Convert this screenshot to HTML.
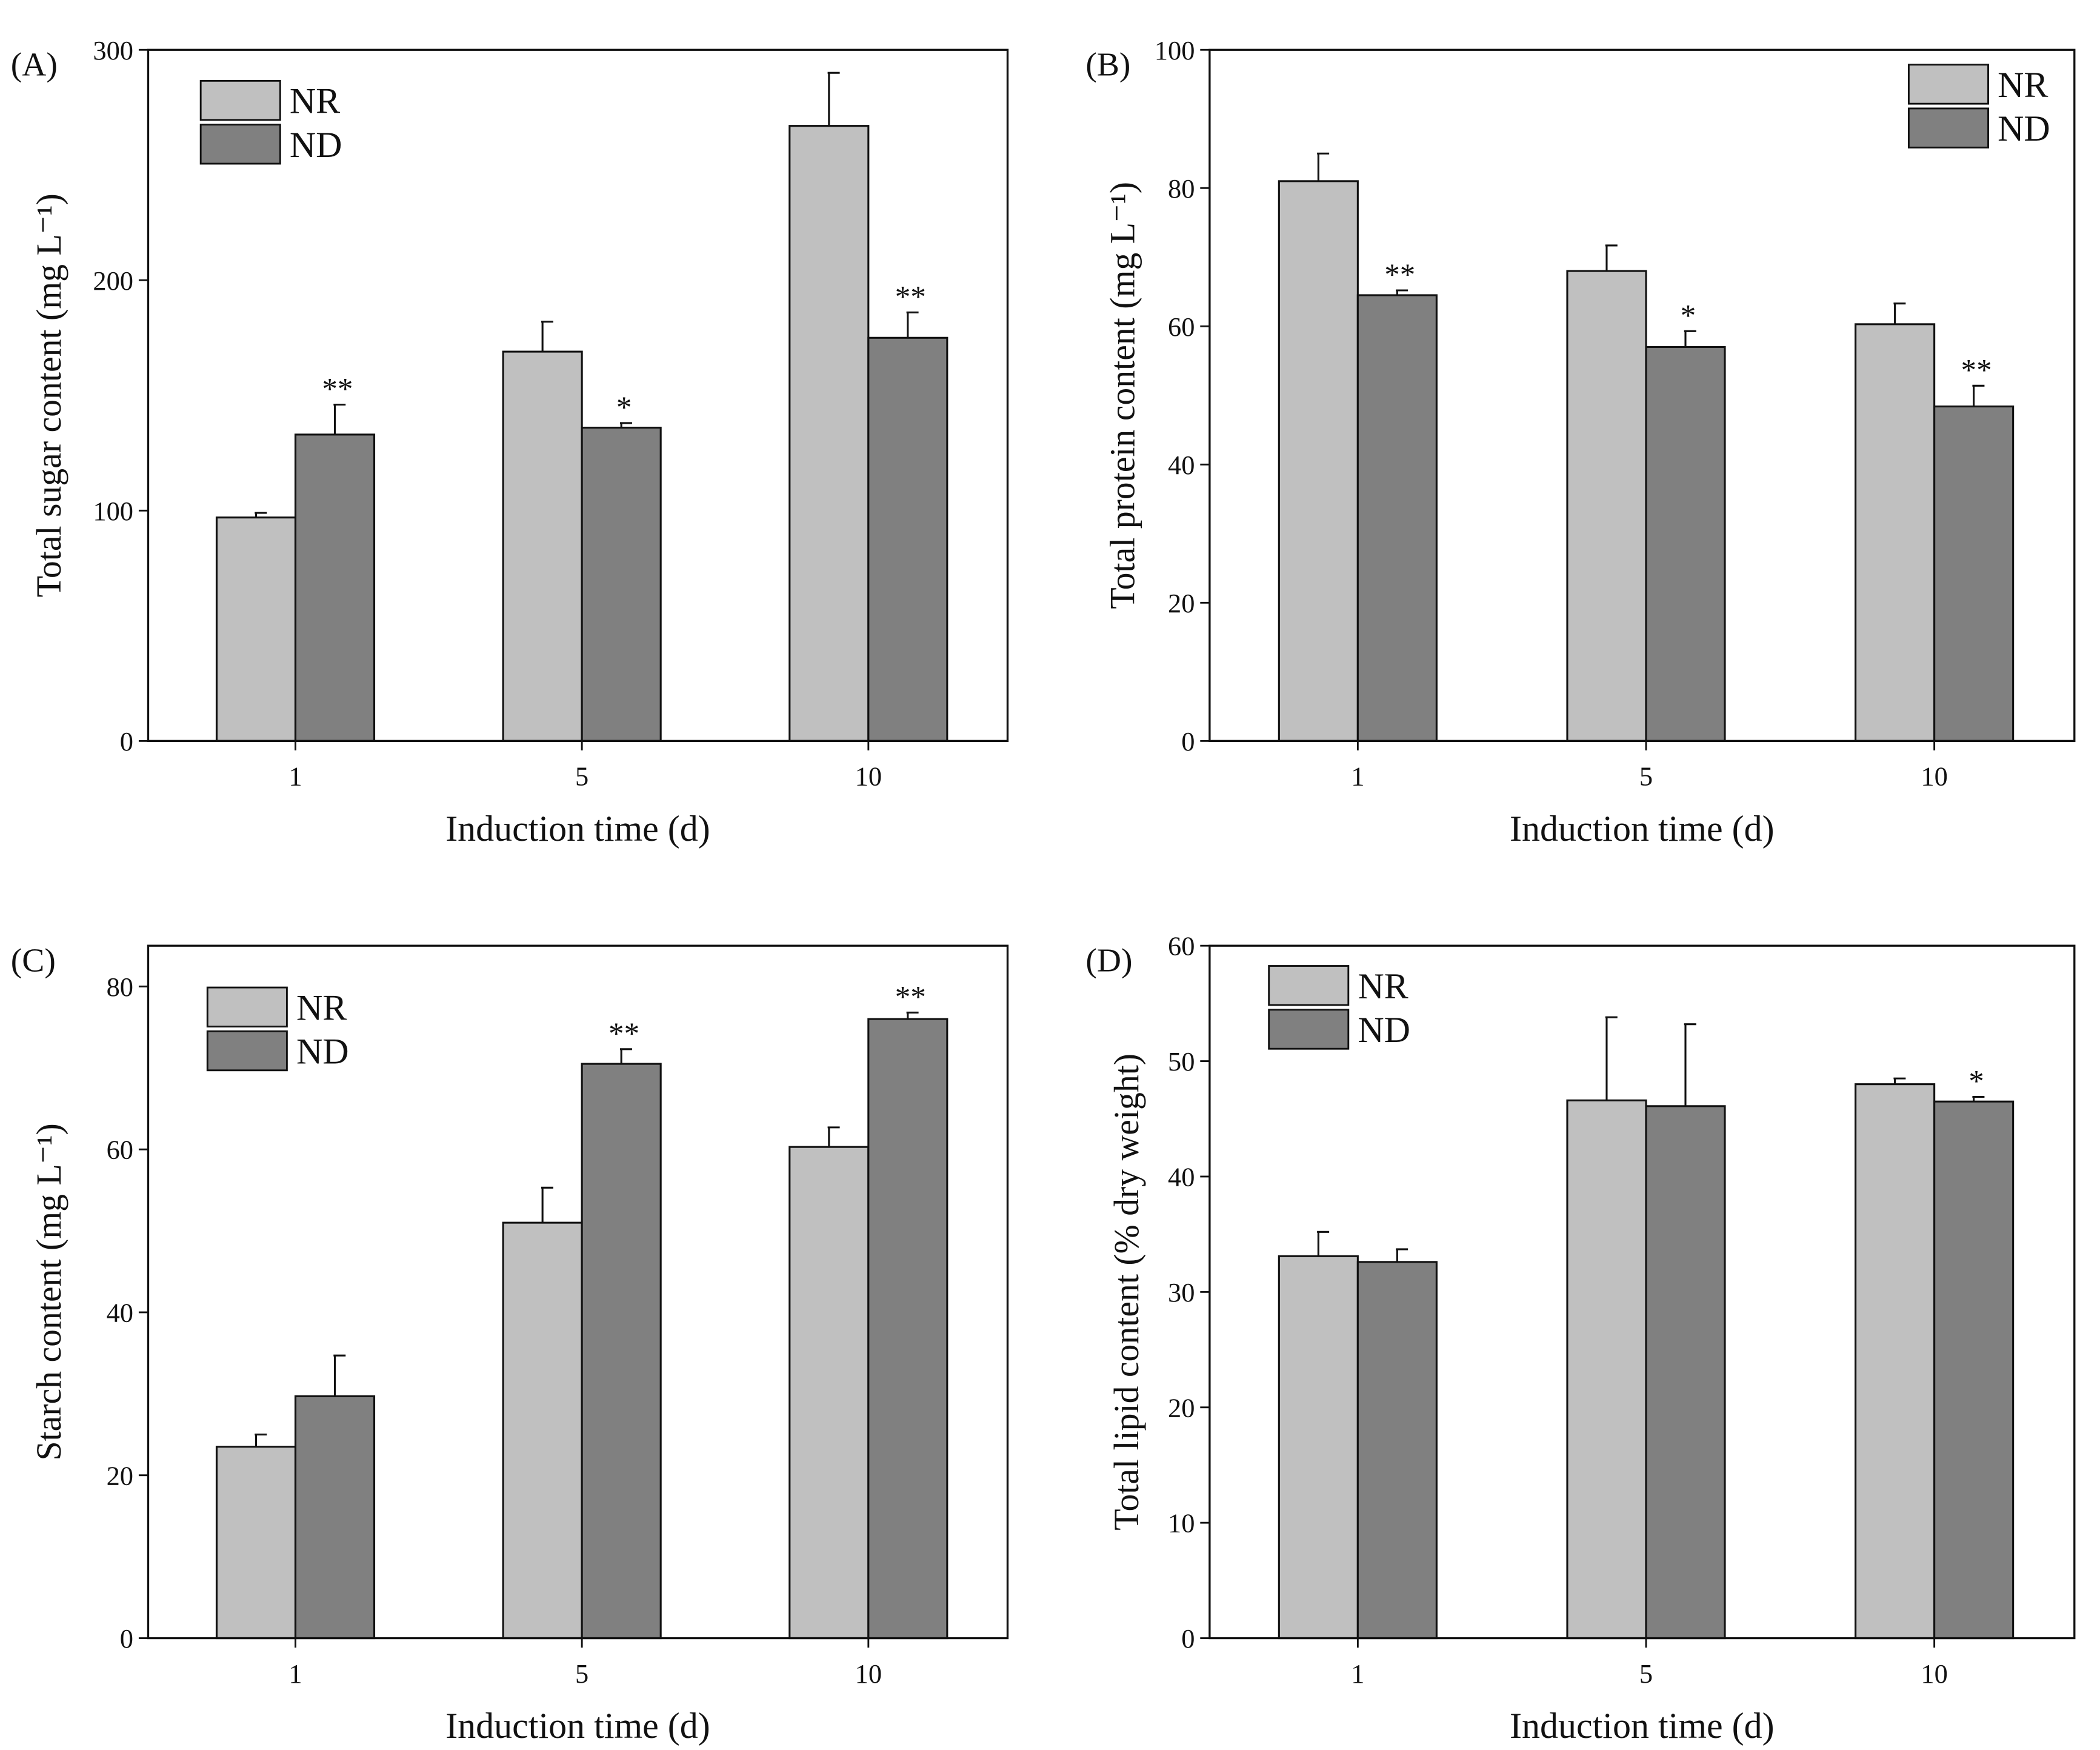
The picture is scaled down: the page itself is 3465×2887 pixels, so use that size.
<!DOCTYPE html>
<html><head><meta charset="utf-8"><style>
html,body{margin:0;padding:0;background:#fff}
svg{display:block}
text{font-family:"Liberation Serif",serif;fill:#111}
</style></head><body>
<svg id="fig" width="3465" height="2887" viewBox="0 0 1559 1299" preserveAspectRatio="none" xmlns="http://www.w3.org/2000/svg"></svg>
<script>
const categories = ["1","5","10"];
const nrA = [97,169,267], nrAErr = [2,13,23], ndA = [133,136,175], ndAErr = [13,2,11];
const starsA = ["**","*","**"];
const nrB = [81,68,60.3], nrBErr = [4,3.7,3], ndB = [64.5,57,48.4], ndBErr = [0.7,2.3,3];
const starsB = ["**","*","**"];
const nrC = [23.5,51,60.3], nrCErr = [1.5,4.3,2.4], ndC = [29.7,70.5,76], ndCErr = [5,1.8,0.8];
const starsC = ["","**","**"];
const nrD = [33.1,46.6,48], nrDErr = [2.1,7.2,0.5], ndD = [32.6,46.1,46.5], ndDErr = [1.1,7.1,0.4];
const starsD = ["","","*"];
const ticksA = [0,100,200,300], ticksB = [0,20,40,60,80,100], ticksC = [0,20,40,60,80], ticksD = [0,10,20,30,40,50,60];

const NS="http://www.w3.org/2000/svg";
const svg=document.getElementById('fig');
function mk(tag,attrs,parent){const e=document.createElementNS(NS,tag);for(const k in attrs)e.setAttribute(k,attrs[k]);(parent||svg).appendChild(e);return e;}

function panel(cfg){
  const g=mk('g',{});
  
  
  const {x0,x1,y0,y1,ymax}=cfg;
  const ys=v=>y1-(v/ymax)*(y1-y0);
  const band=(x1-x0)/categories.length;
  const xc=i=>x0+(i+0.5)*band+3;
  const bw=58.5;
  const series=[[cfg.nr,cfg.nrErr,'#c0c0c0',-1,'nr'],[cfg.nd,cfg.ndErr,'#808080',0,'nd']];
  series.forEach(s=>{
    categories.forEach((c,i)=>{
      const bx=xc(i)+s[3]*bw, top=ys(s[0][i]), etop=ys(s[0][i]+s[1][i]);
      const ex=bx+bw/2;
      const el=mk('line',{x1:ex,x2:ex,y1:top,y2:etop,stroke:'#111','stroke-width':1.4},g);
      
      
      const cap=mk('line',{x1:ex-1,x2:ex+8,y1:etop,y2:etop,stroke:'#111','stroke-width':1.4},g);
      
      
      const r=mk('rect',{x:bx,y:top,width:bw,height:y1-top,fill:s[2],stroke:'#111','stroke-width':1.4},g);
      
      
    });
  });
  categories.forEach((c,i)=>{
    if(cfg.stars[i]){
      const t=mk('text',{x:xc(i)+bw/2+2,y:ys(cfg.nd[i]+cfg.ndErr[i])-4,'text-anchor':'middle','font-size':23},g);
      t.textContent=cfg.stars[i];
      
      
    }
    const tk=mk('line',{x1:xc(i),x2:xc(i),y1:y1,y2:y1+7,stroke:'#111','stroke-width':1.3},g);
    
    
    const tl=mk('text',{x:xc(i),y:y1+33,'text-anchor':'middle','font-size':20},g);
    tl.textContent=c;
    
    
  });
  cfg.ticks.forEach(v=>{
    const y=ys(v);
    const tk=mk('line',{x1:x0-7,x2:x0,y1:y,y2:y,stroke:'#111','stroke-width':1.3},g);
    
    
    const tl=mk('text',{x:x0-11,y:y+7,'text-anchor':'end','font-size':20},g);
    tl.textContent=v;
    
    
  });
  const fr=mk('rect',{x:x0,y:y0,width:x1-x0,height:y1-y0,fill:'none',stroke:'#111','stroke-width':1.5},g);
  
  
  const xt=mk('text',{x:(x0+x1)/2,y:y1+74,'text-anchor':'middle','font-size':27},g);
  xt.textContent='Induction time (d)';
  
  
  const yt=mk('text',{x:0,y:0,'text-anchor':'middle','font-size':26,transform:`translate(${cfg.ytx},${(y0+y1)/2}) rotate(-90)`},g);
  yt.textContent=cfg.ytitle;
  
  
  const pl=mk('text',{x:cfg.plx,y:y0+19,'font-size':25},g);
  pl.textContent='('+cfg.id+')';
  
  
  [['NR','#c0c0c0',0],['ND','#808080',1]].forEach(l=>{
    const ly=cfg.ly+l[2]*32.5;
    const lr=mk('rect',{x:cfg.lx,y:ly,width:59,height:29,fill:l[1],stroke:'#111','stroke-width':1.3},g);
    
    
    const lt=mk('text',{x:cfg.lx+66,y:ly+24,'font-size':27},g);
    lt.textContent=l[0];
    
    
  });
}
panel({id:'A',x0:110,x1:748,y0:37,y1:550,ymax:300,nr:nrA,nrErr:nrAErr,nd:ndA,ndErr:ndAErr,stars:starsA,ticks:ticksA,ytitle:'Total sugar content (mg L\u207B\u00B9)',ytx:45,plx:8,lx:149,ly:60});
panel({id:'B',x0:898,x1:1540,y0:37,y1:550,ymax:100,nr:nrB,nrErr:nrBErr,nd:ndB,ndErr:ndBErr,stars:starsB,ticks:ticksB,ytitle:'Total  protein content (mg L\u207B\u00B9)',ytx:842,plx:806,lx:1417,ly:48});
panel({id:'C',x0:110,x1:748,y0:702,y1:1216,ymax:85,nr:nrC,nrErr:nrCErr,nd:ndC,ndErr:ndCErr,stars:starsC,ticks:ticksC,ytitle:'Starch content (mg L\u207B\u00B9)',ytx:45,plx:8,lx:154,ly:733});
panel({id:'D',x0:898,x1:1540,y0:702,y1:1216,ymax:60,nr:nrD,nrErr:nrDErr,nd:ndD,ndErr:ndDErr,stars:starsD,ticks:ticksD,ytitle:'Total lipid content (% dry weight)',ytx:845,plx:806,lx:942,ly:717});
</script>
</body></html>
